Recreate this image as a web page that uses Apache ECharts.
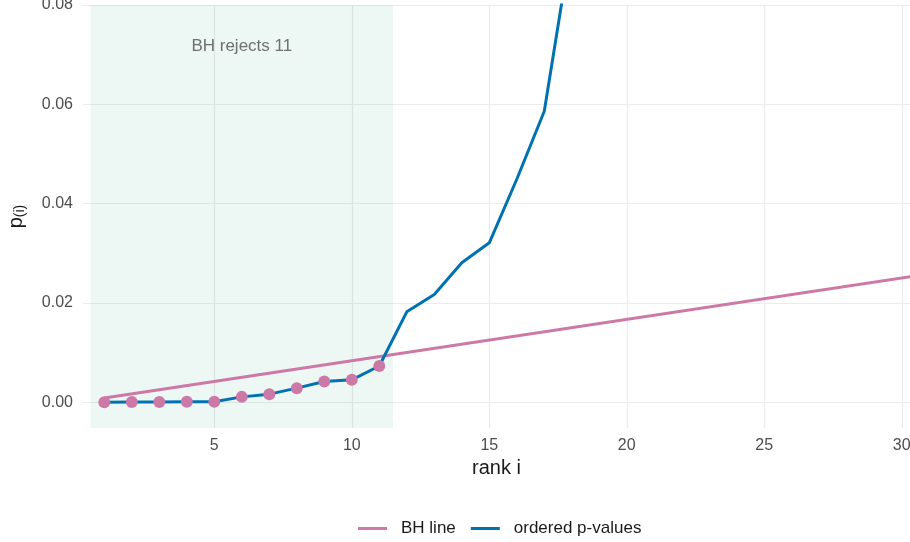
<!DOCTYPE html>
<html>
<head>
<meta charset="utf-8">
<script src="https://cdn.jsdelivr.net/npm/echarts@6/dist/echarts.min.js"></script>
<style>
  html, body { margin: 0; padding: 0; background: #ffffff; }
  #chart { width: 910px; height: 542px; }
</style>
</head>
<body>
<div id="chart"></div>
<script>
// Ordered p-values by rank (first 18 ranks; later ranks lie above the plotted range)
const ranks = [1, 2, 3, 4, 5, 6, 7, 8, 9, 10, 11, 12, 13, 14, 15, 16, 17, 18];
const pValues = [0.00001, 0.00002, 0.00003, 0.00008, 0.0001, 0.00107, 0.00162, 0.00283, 0.00417, 0.00451, 0.00729,
                 0.0182, 0.0217, 0.0281, 0.0321, 0.0449, 0.0586, 0.093];

// Benjamini-Hochberg threshold line: from rank 1 to rank m, slope q/m
const fdrLevel = 0.05;
const numTests = 60;
const bhEndpoints = [[1, fdrLevel / numTests], [numTests, fdrLevel]];

// Rejection region and annotation
const rejectedCount = 11;
const rejectRange = [0.5, rejectedCount + 0.5];
const annotationText = 'BH rejects ' + rejectedCount;
const annotationPos = [6, 0.0717];

// Tick values
const xTicks = [5, 10, 15, 20, 25, 30];
const yTicks = [0, 0.02, 0.04, 0.06, 0.08];

const pinkColor = '#CC79A7';
const blueColor = '#0072B2';
const fontFamily = 'Liberation Sans, Arial, Helvetica, sans-serif';

const linePoints = ranks.map((r, i) => [r, pValues[i]]);
const rejectedPoints = linePoints.slice(0, rejectedCount);

const chart = echarts.init(document.getElementById('chart'), null, { renderer: 'canvas' });

chart.setOption({
  backgroundColor: '#ffffff',
  animation: false,
  textStyle: { fontFamily: fontFamily },
  grid: { left: 83, right: 0, top: 5, bottom: 114, containLabel: false, outerBoundsMode: 'none' },
  legend: {
    top: 520,
    left: 358,
    padding: 0,
    data: ['BH line', 'ordered p-values'],
    icon: 'rect',
    itemWidth: 29,
    itemHeight: 3,
    itemGap: 15,
    textStyle: { fontSize: 17, color: '#1a1a1a', fontFamily: fontFamily, padding: [0, 0, 0, 9] }
  },
  xAxis: {
    type: 'value',
    min: 0.225,
    max: 30.3,
    name: 'rank i',
    nameLocation: 'middle',
    nameGap: 30,
    nameTextStyle: { fontSize: 20, color: '#1a1a1a', fontFamily: fontFamily },
    axisLine: { show: false },
    axisTick: { show: false, customValues: xTicks },
    axisLabel: { customValues: xTicks, fontSize: 16, color: '#4D4D4D', margin: 10, fontFamily: fontFamily },
    splitLine: { show: true, lineStyle: { color: '#EBEBEB', width: 1.2 } }
  },
  yAxis: {
    type: 'value',
    min: -0.0052,
    max: 0.08,
    name: '{p|p}{s|(i)}',
    nameLocation: 'middle',
    nameGap: 56,
    nameRotate: 90,
    nameTextStyle: {
      rich: {
        p: { fontSize: 20, color: '#1a1a1a', fontFamily: fontFamily },
        s: { fontSize: 14, color: '#1a1a1a', fontFamily: fontFamily, padding: [7, 0, 0, 0] }
      }
    },
    axisLine: { show: false },
    axisTick: { show: false, customValues: yTicks },
    axisLabel: {
      customValues: yTicks,
      fontSize: 16, color: '#4D4D4D', margin: 10, fontFamily: fontFamily,
      formatter: v => v.toFixed(2)
    },
    splitLine: { show: true, lineStyle: { color: '#EBEBEB', width: 1.2 } }
  },
  series: [
    {
      name: 'BH line',
      type: 'line',
      data: bhEndpoints,
      symbol: 'none',
      clip: true,
      z: 3,
      lineStyle: { color: pinkColor, width: 3 },
      itemStyle: { color: pinkColor },
      markArea: {
        silent: true,
        itemStyle: { color: 'rgba(0,158,115,0.07)' },
        data: [[{ xAxis: rejectRange[0] }, { xAxis: rejectRange[1] }]]
      }
    },
    {
      name: 'ordered p-values',
      type: 'line',
      data: linePoints,
      symbol: 'none',
      clip: true,
      z: 4,
      lineStyle: { color: blueColor, width: 3 },
      itemStyle: { color: blueColor }
    },
    {
      name: 'rejected',
      type: 'scatter',
      data: rejectedPoints,
      symbol: 'circle',
      symbolSize: 12,
      z: 5,
      itemStyle: { color: pinkColor, opacity: 1 }
    },
    {
      name: 'annotation',
      type: 'scatter',
      data: [annotationPos],
      symbolSize: 0,
      silent: true,
      z: 6,
      label: {
        show: true,
        position: 'inside',
        formatter: annotationText,
        fontSize: 17,
        color: '#4D4D4D',
        fontFamily: fontFamily
      }
    }
  ]
});
</script>
</body>
</html>
